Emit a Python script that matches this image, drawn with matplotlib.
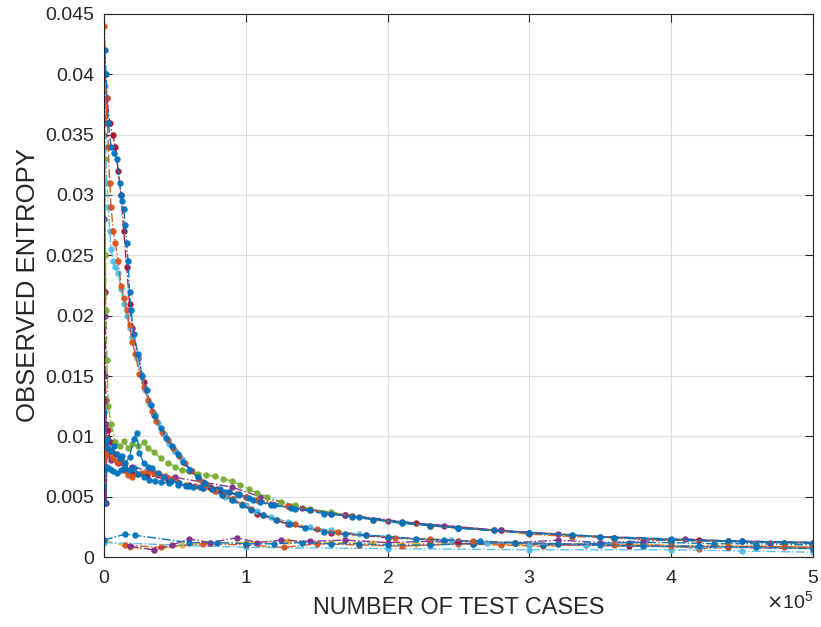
import numpy as np
from matplotlib import pyplot as plt
from matplotlib.ticker import FuncFormatter, ScalarFormatter

plt.rcParams['font.family'] = ['Liberation Sans', 'DejaVu Sans']

# MATLAB default colour order
BLUE = "#0072BD"
ORANGE = "#D95319"
YELLOW = "#EDB120"
PURPLE = "#7E2F8E"
GREEN = "#77AC30"
LBLUE = "#4DBEEE"
DRED = "#A2142F"

# x values are in thousands of test cases, y is the observed entropy
# --- flat group near the bottom ---
yel_x = [0, 18, 35, 55, 75, 100, 130, 160, 190, 220, 260, 300, 340, 380, 420, 460, 500]
yel_y = [0.0014, 0.0008, 0.0006, 0.0010, 0.0012, 0.0012, 0.0013, 0.0012, 0.0012, 0.0011,
         0.0011, 0.0010, 0.0010, 0.0010, 0.0009, 0.0009, 0.0009]

lblue_low_x = [0, 100, 200, 300, 400, 450, 500]
lblue_low_y = [0.0012, 0.0008, 0.0007, 0.0006, 0.0006, 0.0005, 0.0004]

orange_low_x = [15, 40, 70, 100, 127, 150, 180, 210, 250, 280, 310, 340, 380, 420, 460, 500]
orange_low_y = [0.0010, 0.0008, 0.0011, 0.0010, 0.0008, 0.0011, 0.0010, 0.0009, 0.0011,
                0.0010, 0.0009, 0.0010, 0.0011, 0.0007, 0.0009, 0.0008]

purple_low_x = [18, 35, 48, 60, 75, 94, 108, 125, 145, 170, 200, 230, 260, 290, 320, 350,
                380, 410, 440, 470, 500]
purple_low_y = [0.0009, 0.0006, 0.0010, 0.0015, 0.0012, 0.0016, 0.0012, 0.0014, 0.0013,
                0.0014, 0.0012, 0.0013, 0.0011, 0.0012, 0.0014, 0.0012, 0.0013, 0.0015,
                0.0013, 0.0012, 0.0012]

blue_low_x = [0, 15, 22, 60, 80, 100, 120, 140, 160, 180, 200, 230, 260, 290, 310, 340,
              370, 400, 430, 460, 500]
blue_low_y = [0.0014, 0.0019, 0.0018, 0.0012, 0.0012, 0.0011, 0.0011, 0.0012, 0.0011,
              0.0011, 0.0010, 0.0010, 0.0011, 0.0012, 0.0010, 0.0011, 0.0012, 0.0012,
              0.0011, 0.0011, 0.0010]

# --- middle group, ends in the upper branch ---
green_x = [0.5, 1, 1.5, 2, 3, 5, 8, 11, 14, 17, 20, 24, 28, 31, 35, 40, 45, 50, 55, 60,
           66, 72, 78, 84, 90, 96, 102, 108, 115, 125, 135, 145, 160, 175, 190, 210, 230,
           250, 275, 300, 330, 360, 400, 440, 480, 500]
green_y = [0.033, 0.025, 0.0205, 0.0163, 0.0125, 0.0110, 0.0095, 0.0092, 0.0096, 0.0090,
           0.0094, 0.0092, 0.0095, 0.0090, 0.0087, 0.0082, 0.0078, 0.0075, 0.0072, 0.0071,
           0.0069, 0.0068, 0.0067, 0.0065, 0.0063, 0.0060, 0.0056, 0.0053, 0.0050, 0.0046,
           0.0043, 0.0040, 0.0037, 0.0034, 0.0031, 0.0028, 0.0026, 0.0024, 0.0022, 0.0020,
           0.0018, 0.0016, 0.0014, 0.0013, 0.0012, 0.0011]

purple_x = [0.2, 0.5, 0.8, 1.2, 1.6, 2.2, 3, 5, 10, 20, 35, 50, 70, 90, 110, 140, 170,
            200, 240, 280, 320, 360, 400, 450, 500]
purple_y = [0.028, 0.020, 0.015, 0.0125, 0.0110, 0.0095, 0.0085, 0.0080, 0.0078, 0.0075,
            0.0070, 0.0066, 0.0062, 0.0058, 0.0050, 0.0041, 0.0035, 0.0030, 0.0026, 0.0022,
            0.0019, 0.0016, 0.0014, 0.0013, 0.0012]

orange_mid_x = [0.3, 1, 3, 6, 9, 11, 14, 17, 20, 23, 27, 31, 35, 39, 43, 47, 52, 58, 64,
                70, 76, 82, 88, 94, 100, 108, 118, 130, 145, 160, 175, 190, 210, 230, 250,
                275, 300, 330, 360, 400, 440, 480, 500]
orange_mid_y = [0.0100, 0.0083, 0.0086, 0.0082, 0.0079, 0.0080, 0.0072, 0.0068, 0.0066,
                0.0069, 0.0070, 0.0071, 0.0070, 0.0069, 0.0067, 0.0065, 0.0062, 0.0060,
                0.0059, 0.0057, 0.0056, 0.0055, 0.0054, 0.0052, 0.0050, 0.0047, 0.0044,
                0.0042, 0.0039, 0.0036, 0.0034, 0.0031, 0.0029, 0.0026, 0.0024, 0.0022,
                0.0019, 0.0017, 0.0016, 0.0014, 0.0013, 0.0012, 0.0012]

blue_mid_x = [0.3, 1, 2, 4, 6, 9, 12, 15, 18, 21, 24, 28, 32, 36, 40, 46, 52, 58, 63, 70,
              76, 82, 88, 95, 102, 110, 120, 132, 145, 160, 175, 190, 210, 230, 250, 275,
              300, 330, 360, 400, 440, 480, 500]
blue_mid_y = [0.0072, 0.0045, 0.0075, 0.0073, 0.0071, 0.0070, 0.0072, 0.0074, 0.0072,
              0.0074, 0.0069, 0.0066, 0.0064, 0.0063, 0.0062, 0.0061, 0.0060, 0.0059,
              0.0058, 0.0057, 0.0056, 0.0056, 0.0054, 0.0052, 0.0049, 0.0046, 0.0043,
              0.0041, 0.0039, 0.0036, 0.0033, 0.0031, 0.0028, 0.0026, 0.0024, 0.0022,
              0.0020, 0.0018, 0.0016, 0.0014, 0.0013, 0.0012, 0.0011]

blue_spk_x = [0.3, 1, 2, 3, 5, 7, 9, 11, 13, 15, 18, 21, 23, 25, 28, 31, 34, 38, 42, 47,
              53, 60, 68, 76, 85, 95, 105, 118, 135, 155, 180, 210, 250, 300, 350, 400,
              450, 500]
blue_spk_y = [0.0120, 0.0095, 0.0098, 0.0090, 0.0088, 0.0092, 0.0085, 0.0082, 0.0084,
              0.0078, 0.0083, 0.0098, 0.0103, 0.0086, 0.0078, 0.0075, 0.0074, 0.0070,
              0.0066, 0.0063, 0.0061, 0.0059, 0.0058, 0.0056, 0.0054, 0.0051, 0.0047,
              0.0043, 0.0040, 0.0036, 0.0033, 0.0029, 0.0024, 0.0020, 0.0017, 0.0015,
              0.0013, 0.0012]

dred_x = [0.3, 0.8, 1.2, 1.5, 2, 3, 5, 8, 11, 15, 20, 30, 45, 60, 80, 100, 130, 170, 220,
          280, 350, 420, 500]
dred_y = [0.035, 0.022, 0.013, 0.0045, 0.0085, 0.0105, 0.0095, 0.0085, 0.0080, 0.0072,
          0.0070, 0.0068, 0.0064, 0.0060, 0.0056, 0.0050, 0.0042, 0.0035, 0.0028, 0.0022,
          0.0017, 0.0014, 0.0012]

# --- main decaying curves, end in the lower branch ---
dred_out_x = [0.5, 2, 4, 6, 8, 10, 12, 14, 16, 18, 20, 24, 28, 35, 42, 50, 60, 75, 91,
              108, 130, 160, 200, 250, 300, 370, 440, 500]
dred_out_y = [0.040, 0.038, 0.036, 0.035, 0.034, 0.032, 0.030, 0.027, 0.024, 0.021,
              0.019, 0.0165, 0.0145, 0.0118, 0.0102, 0.0088, 0.0072, 0.0058, 0.0048,
              0.0036, 0.0027, 0.0020, 0.0016, 0.0013, 0.0011, 0.0009, 0.0008, 0.0007]

lblue_x = [0.5, 1.2, 2, 3, 4, 5, 6.5, 8, 10, 12, 14, 16, 18, 20, 23, 26, 29, 32, 35, 38,
           42, 46, 50, 55, 60, 66, 72, 78, 85, 92, 100, 108, 118, 130, 145, 160, 180, 200,
           220, 245, 270, 300, 340, 380, 420, 460, 500]
lblue_y = [0.039, 0.034, 0.031, 0.029, 0.027, 0.0255, 0.0245, 0.0240, 0.0235, 0.0222,
           0.0210, 0.0200, 0.0190, 0.0182, 0.0165, 0.0152, 0.0138, 0.0128, 0.0119, 0.0111,
           0.0102, 0.0094, 0.0088, 0.0081, 0.0073, 0.0066, 0.0060, 0.0055, 0.0050, 0.0047,
           0.0043, 0.0038, 0.0033, 0.0029, 0.0025, 0.0022, 0.0019, 0.0017, 0.0015, 0.0014,
           0.0012, 0.0011, 0.0010, 0.0009, 0.0008, 0.0008, 0.0007]

orange_x = [0.3, 1, 1.5, 2, 3, 4, 5, 6.5, 8, 10, 12, 14, 16, 18, 20, 22, 25, 28, 31, 34,
            37, 41, 45, 49, 53, 57, 62, 67, 72, 78, 84, 90, 97, 104, 112, 122, 135, 150,
            165, 185, 205, 230, 260, 290, 320, 360, 400, 440, 480, 500]
orange_y = [0.044, 0.040, 0.036, 0.038, 0.034, 0.031, 0.029, 0.027, 0.026, 0.0245, 0.0225,
            0.0215, 0.0205, 0.0192, 0.0178, 0.0168, 0.0152, 0.0141, 0.0130, 0.0121, 0.0113,
            0.0104, 0.0097, 0.0090, 0.0084, 0.0078, 0.0071, 0.0065, 0.0060, 0.0055, 0.0051,
            0.0048, 0.0044, 0.0040, 0.0035, 0.0031, 0.0027, 0.0023, 0.0021, 0.0018, 0.0016,
            0.0015, 0.0013, 0.0012, 0.0011, 0.0010, 0.0009, 0.0009, 0.0008, 0.0008]

blue_x = [0.5, 1.5, 3, 5, 7, 9, 11, 12, 13, 14, 15, 16, 17, 18, 19, 21, 24, 27, 30, 33,
          36, 40, 44, 48, 52, 56, 61, 66, 71, 77, 83, 90, 97, 104, 112, 121, 131, 142,
          155, 170, 185, 200, 220, 240, 265, 290, 320, 350, 380, 420, 460, 500]
blue_y = [0.042, 0.040, 0.036, 0.034, 0.0335, 0.0330, 0.0310, 0.0300, 0.0295, 0.0288,
          0.0275, 0.0260, 0.0245, 0.0220, 0.0205, 0.0185, 0.0168, 0.0150, 0.0138, 0.0126,
          0.0117, 0.0107, 0.0099, 0.0092, 0.0085, 0.0079, 0.0072, 0.0066, 0.0061, 0.0056,
          0.0051, 0.0047, 0.0043, 0.0039, 0.0035, 0.0031, 0.0027, 0.0024, 0.0021, 0.0019,
          0.0018, 0.0017, 0.0015, 0.0014, 0.0013, 0.0012, 0.0011, 0.0010, 0.0009, 0.0009,
          0.0008, 0.0007]

series = [
    (yel_x, yel_y, YELLOW),
    (lblue_low_x, lblue_low_y, LBLUE),
    (orange_low_x, orange_low_y, ORANGE),
    (purple_low_x, purple_low_y, PURPLE),
    (blue_low_x, blue_low_y, BLUE),
    (dred_x, dred_y, DRED),
    (purple_x, purple_y, PURPLE),
    (green_x, green_y, GREEN),
    (orange_mid_x, orange_mid_y, ORANGE),
    (blue_mid_x, blue_mid_y, BLUE),
    (blue_spk_x, blue_spk_y, BLUE),
    (dred_out_x, dred_out_y, DRED),
    (lblue_x, lblue_y, LBLUE),
    (orange_x, orange_y, ORANGE),
    (blue_x, blue_y, BLUE),
]

fig = plt.figure(figsize=(8.21, 6.27), dpi=100)
ax = fig.add_axes([0.1267, 0.1116, 0.8633, 0.8661])

for xs, ys, c in series:
    ax.plot(np.array(xs) * 1e3, ys, linestyle="-.", linewidth=1.0, color=c,
            marker="o", markersize=4.6, markeredgewidth=0, alpha=0.95)

ax.set_xlim(0, 5e5)
ax.set_ylim(0, 0.045)
ax.set_xticks(np.arange(0, 6) * 1e5)
ax.set_yticks(np.arange(0, 0.0451, 0.005))

fmt = ScalarFormatter(useMathText=True)
fmt.set_powerlimits((0, 0))
ax.xaxis.set_major_formatter(fmt)
ax.yaxis.set_major_formatter(FuncFormatter(lambda v, p: "0" if abs(v) < 1e-12 else f"{v:g}"))

dark = "#262626"
ax.grid(True, color="#dfdfdf", linewidth=0.8)
ax.set_axisbelow(True)
for s in ax.spines.values():
    s.set_color(dark)
    s.set_linewidth(0.8)
ax.tick_params(direction="in", length=6, width=0.8, colors=dark, labelsize=14,
               top=True, right=True)
ax.tick_params(axis="x", pad=9)
ax.tick_params(axis="y", pad=7)
ax.xaxis.get_offset_text().set_fontsize(14)
ax.xaxis.get_offset_text().set_color(dark)

ax.set_xlabel("NUMBER OF TEST CASES", fontsize=16.8, color=dark, labelpad=7)
ax.set_ylabel("OBSERVED ENTROPY", fontsize=18.5, color=dark, labelpad=4)

fig.savefig("out.png", dpi=100)
